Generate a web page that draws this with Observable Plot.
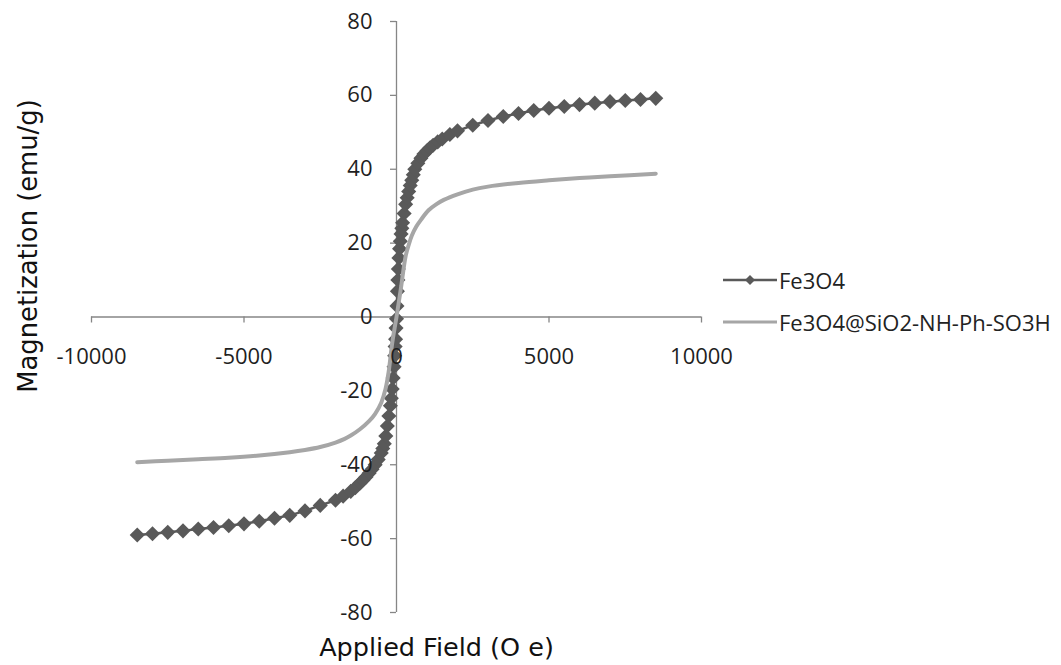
<!DOCTYPE html>
<html><head><meta charset="utf-8">
<script src="https://cdn.jsdelivr.net/npm/d3@7"></script>
<script src="https://cdn.jsdelivr.net/npm/@observablehq/plot@0.6"></script>
<style>
body{margin:0;background:#fff;}
#wrap{position:relative;width:1061px;height:665px;overflow:hidden;}
.legend{position:absolute;left:723px;height:28px;font-family:"Open Sans";font-size:22px;color:#222;display:flex;align-items:center;white-space:nowrap;}
.legend svg{margin-right:2px;}
</style></head><body><div id="wrap"></div>
<script>
const seriesNames = ["Fe3O4", "Fe3O4@SiO2-NH-Ph-SO3H"];
const xTitle = "Applied Field (O e)";
const yTitle = "Magnetization (emu/g)";
const xTicks = [-10000, -5000, 0, 5000, 10000];
const yTicks = [-80, -60, -40, -20, 0, 20, 40, 60, 80];

const fe3o4Field = [-8500,-8000,-7500,-7000,-6500,-6000,-5500,-5000,-4500,-4000,-3500,-3000,-2500,-2000,-1750,-1500,-1350,-1200,-1100,-1000,-900,-800,-700,-600,-500,-450,-400,-350,-300,-250,-200,-170,-140,-110,-80,-60,-45,-30,-15,0,15,30,45,60,80,100,125,150,175,200,250,300,350,400,450,500,550,600,700,800,900,1000,1100,1200,1350,1500,1750,2000,2500,3000,3500,4000,4500,5000,5500,6000,6500,7000,7500,8000,8500];
const fe3o4M = [-59.0,-58.7,-58.3,-57.9,-57.4,-57.0,-56.5,-56.0,-55.3,-54.5,-53.7,-52.5,-51.0,-49.6,-48.5,-47.2,-46.2,-45.0,-44.2,-43.3,-42.3,-41.2,-40.0,-38.6,-36.8,-35.6,-34.3,-32.2,-29.5,-26.8,-24.0,-22.0,-19.5,-16.5,-13.5,-10.5,-8.0,-6.0,-3.0,-0.5,3.0,7.0,10.0,13.0,16.0,18.5,20.5,22.5,24.0,25.5,28.0,30.5,32.3,34.0,35.6,37.0,38.5,40.0,41.6,43.0,44.1,45.0,45.8,46.5,47.4,48.2,49.4,50.4,51.9,53.2,54.3,55.1,55.9,56.5,57.0,57.5,57.9,58.3,58.6,58.9,59.2];

const coatedField = [-8500,-7500,-6500,-5500,-4500,-3500,-3000,-2500,-2000,-1700,-1500,-1200,-900,-700,-500,-360,-260,-140,0,140,300,400,500,650,800,1050,1300,1550,2000,2500,3000,4000,5000,6000,7000,8500];
const coatedM = [-39.3,-38.9,-38.5,-38.1,-37.5,-36.6,-36.0,-35.2,-34.0,-33.0,-32.1,-30.4,-28.2,-26.2,-23.2,-19.5,-15.0,-7.0,0.0,7.5,16.5,19.5,22.0,24.5,26.3,28.9,30.5,31.7,33.2,34.5,35.3,36.3,37.0,37.6,38.1,38.8];

const fe = fe3o4Field.map((h, i) => ({h, m: fe3o4M[i]}));
const co = coatedField.map((h, i) => ({h, m: coatedM[i]}));

const axisColor = "#868686";
const darkGray = "#595959";
const lightGray = "#a6a6a6";

const plot = Plot.plot({
  width: 1061, height: 665,
  marginLeft: 91, marginRight: 360, marginTop: 21, marginBottom: 53,
  x: {domain: [-10000, 10000], axis: null},
  y: {domain: [-80, 80], axis: null},
  style: {fontFamily: "Open Sans", background: "#fff", overflow: "visible"},
  marks: [
    Plot.ruleY([0], {x1: xTicks[0], x2: xTicks[xTicks.length - 1], stroke: axisColor, strokeWidth: 1.3}),
    Plot.ruleX([0], {y1: yTicks[0], y2: yTicks[yTicks.length - 1], stroke: axisColor, strokeWidth: 1.3}),
    Plot.ruleX(xTicks, {x: d => d, y1: 0, y2: 0, insetBottom: -6, stroke: axisColor, strokeWidth: 1.3}),
    Plot.ruleY(yTicks, {y: d => d, x1: 0, x2: 0, insetLeft: -6, stroke: axisColor, strokeWidth: 1.3}),
    Plot.line(fe, {x: "h", y: "m", stroke: darkGray, strokeWidth: 2.5}),
    Plot.dot(fe, {x: "h", y: "m", symbol: "diamond2", r: 6.8, fill: darkGray, stroke: null}),
    Plot.line(co, {x: "h", y: "m", stroke: lightGray, strokeWidth: 4, curve: "catmull-rom"}),
    Plot.text(xTicks, {x: d => d, y: 0, dy: 40, text: d => String(d), fontSize: 22, fill: "#1f1f1f"}),
    Plot.text(yTicks, {x: 0, y: d => d, dx: -24, textAnchor: "end", text: d => String(d), fontSize: 22, fill: "#1f1f1f"}),
    Plot.text([xTitle], {frameAnchor: "bottom", lineAnchor: "middle", textAnchor: "middle", dx: 40, dy: 35, text: d => d, fontSize: 25.5, fontFamily: "DejaVu Sans", fill: "#111"}),
    Plot.text([yTitle], {frameAnchor: "left", lineAnchor: "middle", textAnchor: "middle", rotate: -90, dx: -63, dy: -71, text: d => d, fontSize: 25.8, fontFamily: "DejaVu Sans", fill: "#111"})
  ]
});
const wrap = document.getElementById("wrap");
wrap.appendChild(plot);

const legendRows = [
  {name: seriesNames[0], color: darkGray, width: 2.5, marker: true, top: 266},
  {name: seriesNames[1], color: lightGray, width: 3, marker: false, top: 308}
];
for (const r of legendRows) {
  const div = document.createElement("div");
  div.className = "legend";
  div.style.top = r.top + "px";
  const ns = "http://www.w3.org/2000/svg";
  const svg = document.createElementNS(ns, "svg");
  svg.setAttribute("width", 54); svg.setAttribute("height", 16);
  const line = document.createElementNS(ns, "line");
  line.setAttribute("x1", 0); line.setAttribute("x2", 54);
  line.setAttribute("y1", 8); line.setAttribute("y2", 8);
  line.setAttribute("stroke", r.color); line.setAttribute("stroke-width", r.width);
  svg.appendChild(line);
  if (r.marker) {
    const p = document.createElementNS(ns, "path");
    p.setAttribute("d", "M27,3L32,8L27,13L22,8Z");
    p.setAttribute("fill", r.color);
    svg.appendChild(p);
  }
  div.appendChild(svg);
  const span = document.createElement("span");
  span.textContent = r.name;
  div.appendChild(span);
  wrap.appendChild(div);
}
</script></body></html>
